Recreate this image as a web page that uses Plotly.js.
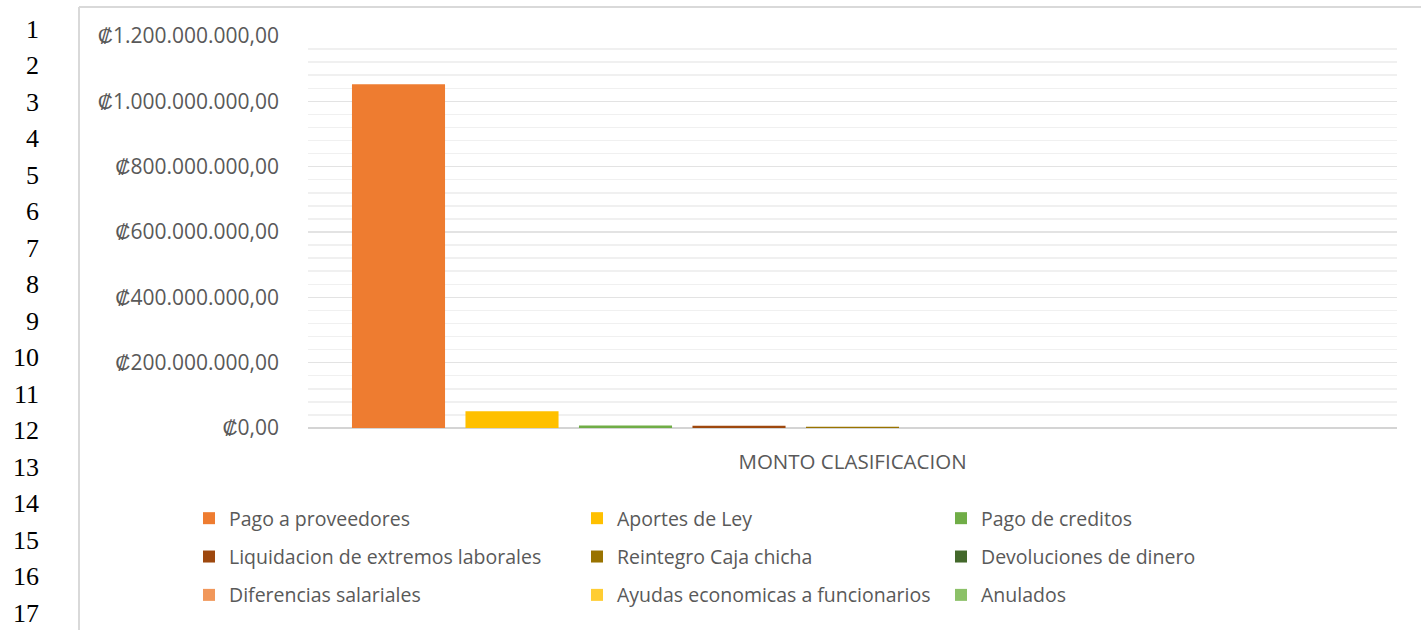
<!DOCTYPE html>
<html>
<head>
<meta charset="utf-8">
<script src="https://cdn.plot.ly/plotly-3.0.1.min.js"></script>
<style>html,body{margin:0;padding:0;background:#fff;}#chart{width:1421px;height:630px;}</style>
</head>
<body>
<div id="chart"></div>
<script>
var category = ["MONTO CLASIFICACION"];
var seriesNames = [
  "Pago a proveedores", "Aportes de Ley", "Pago de creditos",
  "Liquidacion de extremos laborales", "Reintegro Caja chicha", "Devoluciones de dinero",
  "Diferencias salariales", "Ayudas economicas a funcionarios", "Anulados"
];
var seriesValues = [1052000000, 51000000, 7500000, 7000000, 3500000, 300000, 150000, 100000, 0];
var seriesColors = ["#EE7C30", "#FFC000", "#70AD47", "#9E480E", "#997300", "#43682B", "#F1975A", "#FFCD33", "#8CC168"];
var tickValues = [0, 200000000, 400000000, 600000000, 800000000, 1000000000, 1200000000];
var tickLabels = ["₡0,00", "₡200.000.000,00", "₡400.000.000,00", "₡600.000.000,00", "₡800.000.000,00", "₡1.000.000.000,00", "₡1.200.000.000,00"];
var lineNumbers = ["1","2","3","4","5","6","7","8","9","10","11","12","13","14","15","16","17"];

// plot area in pixels
var PL = 308, PR = 1397, PT = 36, PB = 428;
function px2x(px){ return (px - PL) / (PR - PL); }
function py2y(py){ return (PB - py) / (PB - PT); }

var legendIds = ["legend", "legend2", "legend3"];
var traces = seriesNames.map(function(n, i){
  return {
    type: "bar",
    name: n,
    x: category,
    y: [seriesValues[i]],
    marker: {color: seriesColors[i], line: {width: 0}},
    legend: legendIds[i % 3],
    legendgroup: "g" + i,
    hoverinfo: "name+y"
  };
});

var annotations = lineNumbers.map(function(s, i){
  return {
    xref: "paper", yref: "paper",
    x: px2x(41), y: py2y(29 + i * 36.5),
    xanchor: "right", yanchor: "middle",
    text: s, showarrow: false,
    font: {family: "Liberation Serif, Times New Roman, serif", size: 26, color: "#000000"}
  };
});

var legendFont = {family: "Open Sans, sans-serif", size: 19.5, color: "#595959"};
function mkLegend(leftPx){
  return {
    x: px2x(leftPx), y: py2y(499), xref: "paper", yref: "paper",
    xanchor: "left", yanchor: "top",
    orientation: "v", font: legendFont, bgcolor: "rgba(0,0,0,0)",
    tracegroupgap: 10, traceorder: "grouped"
  };
}

var layout = {
  width: 1421, height: 630,
  margin: {l: PL, r: 1421 - PR, t: PT, b: 630 - PB, pad: 0},
  paper_bgcolor: "#ffffff", plot_bgcolor: "#ffffff",
  barmode: "group", bargap: 0.062, bargroupgap: 0.18,
  showlegend: true,
  legend: mkLegend(189),
  legend2: mkLegend(577),
  legend3: mkLegend(941),
  xaxis: {
    type: "category",
    showgrid: false, zeroline: false, showline: false,
    ticks: "", ticklabelstandoff: 19,
    tickfont: {family: "Open Sans, sans-serif", size: 20.5, color: "#595959"},
    fixedrange: true
  },
  yaxis: {
    range: [0, 1200000000],
    tickmode: "array", tickvals: tickValues, ticktext: tickLabels,
    tickfont: {family: "Open Sans, sans-serif", size: 21, color: "#595959"},
    ticklabelstandoff: 28,
    showgrid: true, gridcolor: "#E3E3E3", gridwidth: 1.5,
    minor: {dtick: 40000000, tick0: 0, showgrid: true, gridcolor: "#F0F0F0", gridwidth: 1.5},
    zeroline: true, zerolinecolor: "#D4D4D4", zerolinewidth: 2,
    showline: false, ticks: "", fixedrange: true
  },
  annotations: annotations,
  shapes: [
    {type: "line", xref: "paper", yref: "paper", x0: px2x(79), x1: px2x(79), y0: py2y(7), y1: py2y(640), line: {color: "#D9D9D9", width: 2}},
    {type: "line", xref: "paper", yref: "paper", x0: px2x(79), x1: px2x(1430), y0: py2y(7), y1: py2y(7), line: {color: "#D9D9D9", width: 2}}
  ]
};

Plotly.newPlot("chart", traces, layout, {displayModeBar: false, staticPlot: true});
</script>
</body>
</html>
